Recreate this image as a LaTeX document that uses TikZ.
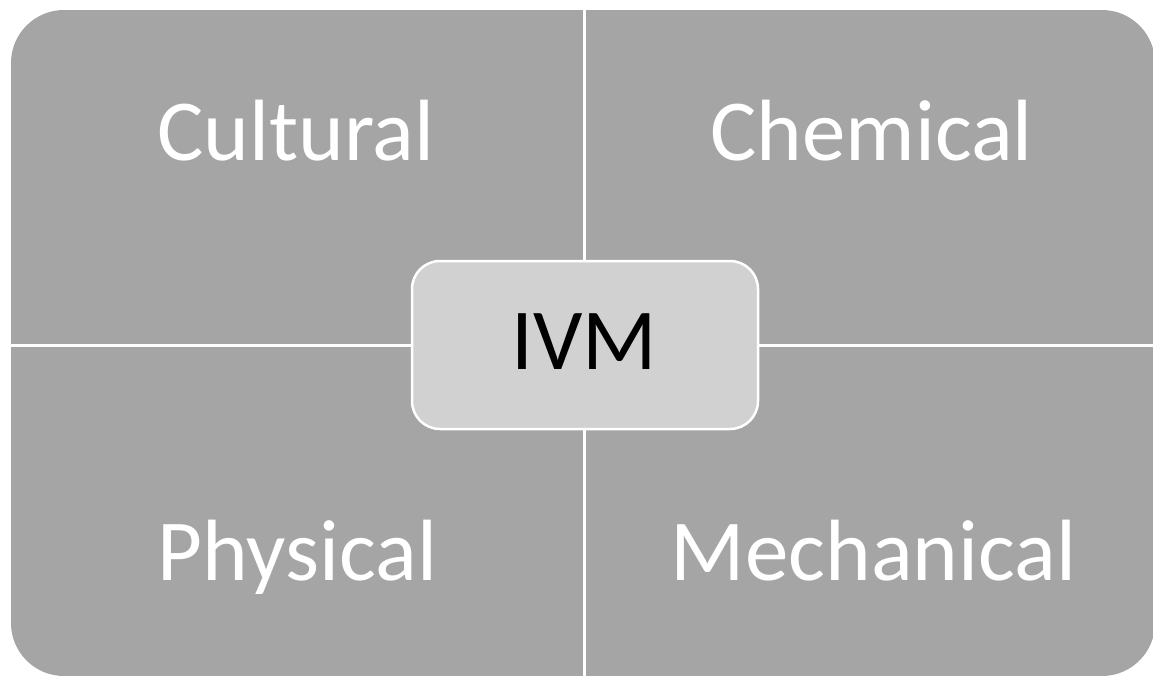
\documentclass[tikz,border=0pt]{standalone}
\usepackage{fontspec}
\setmainfont{Carlito}
\definecolor{quad}{HTML}{A5A5A5}
\definecolor{hub}{HTML}{D1D1D1}
\begin{document}
\begin{tikzpicture}[x=1pt,y=-1pt,
  quadtext/.style={anchor=base,text=white,inner sep=0pt,font=\fontsize{87}{87}\selectfont},
  hubbox/.style={draw=white,line width=2.5pt,fill=hub,rounded corners=28pt,minimum width=346pt,minimum height=168pt,inner sep=0pt},
  divider/.style={draw=white,line width=3pt}]
\useasboundingbox (0,0) rectangle (1153,675);
\fill[white] (0,0) rectangle (1153,675);
\fill[quad,rounded corners=53pt] (11,10) rectangle (1155,676);
\coordinate (vt) at (584.8,8);
\coordinate (vb) at (584.8,680);
\coordinate (hl) at (8,345);
\coordinate (hr) at (1160,345);
\draw[divider] (vt) -- (vb);
\draw[divider] (hl) -- (hr);
\node[hubbox] (hub) at (585,345) {};
\node[anchor=base,inner sep=0pt,font=\fontsize{87}{87}\selectfont] (ivm) at (584.5,369) {IVM};
\node[quadtext] (cultural) at (296,160) {Cultural};
\node[quadtext] (chemical) at (871.5,160) {Chemical};
\node[quadtext] (physical) at (297.5,580) {Physical};
\node[quadtext] (mechanical) at (873.5,580) {Mechanical};
\end{tikzpicture}
\end{document}
